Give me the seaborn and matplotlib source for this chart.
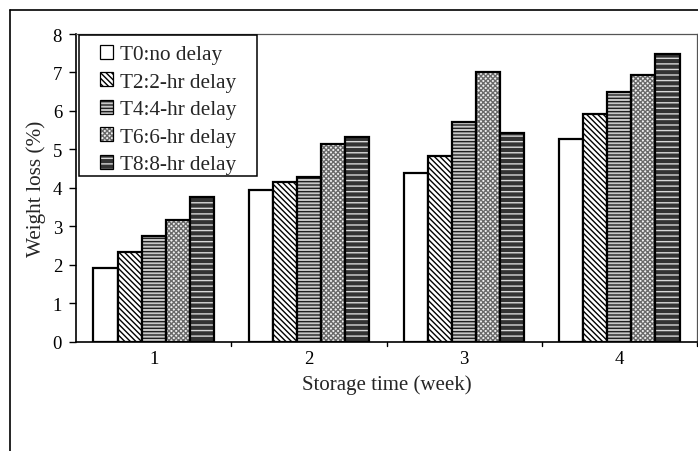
import matplotlib
matplotlib.use("Agg")
import matplotlib.pyplot as plt
import matplotlib.colors as mcolors
from matplotlib.lines import Line2D
from matplotlib.patches import Rectangle
import seaborn as sns
import pandas as pd

weeks = ["1", "2", "3", "4"]
series = ["T0:no delay", "T2:2-hr delay", "T4:4-hr delay", "T6:6-hr delay", "T8:8-hr delay"]
t0 = [1.91, 3.95, 4.39, 5.27]
t2 = [2.32, 4.14, 4.84, 5.93]
t4 = [2.74, 4.28, 5.70, 6.48]
t6 = [3.16, 5.15, 7.02, 6.93]
t8 = [3.77, 5.31, 5.42, 7.48]
yticks = [0, 1, 2, 3, 4, 5, 6, 7, 8]

rows = []
for name, vals in zip(series, [t0, t2, t4, t6, t8]):
    for w, v in zip(weeks, vals):
        rows.append({"week": w, "series": name, "loss": v})
df = pd.DataFrame(rows)

sns.set_theme(style="white")
plt.rcParams["font.family"] = ["Liberation Serif", "DejaVu Serif"]
plt.rcParams["hatch.linewidth"] = 1.0

W, H = 698, 452
fig = plt.figure(figsize=(W / 100, H / 100), dpi=100)
ax = fig.add_axes([76 / W, 1 - 342.7 / H, 621 / W, (342.7 - 35) / H])

sns.barplot(data=df, x="week", y="loss", hue="series", order=weeks,
            hue_order=series, width=0.775, gap=0, dodge=True,
            palette=["white"] * 5, saturation=1, errorbar=None, legend=False,
            linewidth=1.6, edgecolor="black", ax=ax)

styles = [
    ("white", None, "black"),
    ("white", "\\\\\\\\\\\\", "black"),
    ("#c8c8c8", "-----", "#202020"),
    ("#f0f0f0", "xxxxxxx", "#6a6a6a"),
    ("#333333", "---", "#d8d8d8"),
]
for cont, (fc, hatch, hc) in zip(ax.containers, styles):
    for p in cont.patches:
        p.set_facecolor(fc)
        p.set_edgecolor("black")
        p.set_linewidth(1.6)
        if hatch:
            p.set_hatch(hatch)
        p._hatch_color = mcolors.to_rgba(hc)

leg = ax.legend(ax.containers, series, loc="upper left",
                bbox_to_anchor=(100 / W, 1 - 46 / H),
                bbox_transform=fig.transFigure, borderaxespad=0,
                fontsize=15.3, handlelength=0.62, handleheight=0.62,
                handletextpad=0.3, labelspacing=0.38, borderpad=0,
                frameon=False)
for h in leg.legend_handles:
    h.set_linewidth(0.9)

fig.add_artist(Rectangle((79 / W, 1 - 177 / H), 178 / W, 141 / H,
                         transform=fig.transFigure, fill=False,
                         edgecolor="black", linewidth=1.1, zorder=5))

ax.set_ylim(0, 8)
ax.set_yticks(yticks)
ax.set_xlim(-0.5, 3.5)
ax.set_xlabel("Storage time (week)", fontsize=15, labelpad=5)
ax.set_ylabel("Weight loss (%)", fontsize=15.3, labelpad=5)
ax.tick_params(axis="y", labelsize=13.5, left=True, direction="out",
               length=5, width=1, pad=5, colors="black")
ax.tick_params(axis="x", labelsize=13.5, bottom=False, pad=0, colors="black")
for xb in [0.5, 1.5, 2.5, 3.5]:
    ax.plot([xb, xb], [0, -0.12], color="black", lw=1, clip_on=False)

for s in ["left", "bottom"]:
    ax.spines[s].set_color("black")
    ax.spines[s].set_linewidth(1.2)
for s in ["top", "right"]:
    ax.spines[s].set_color("#555555")
    ax.spines[s].set_linewidth(0.9)

fig.add_artist(Line2D([10 / W, 10 / W], [0, 1 - 11 / H],
                      transform=fig.transFigure, color="black", lw=1.2))
fig.add_artist(Line2D([10 / W, 1], [1 - 11 / H, 1 - 11 / H],
                      transform=fig.transFigure, color="black", lw=1.2))

fig.savefig("out.png", dpi=100)
